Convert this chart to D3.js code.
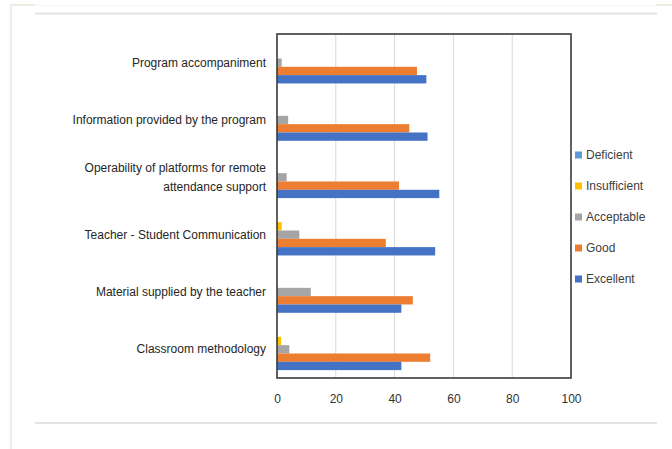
<!DOCTYPE html>
<html>
<head>
<meta charset="utf-8">
<script src="https://cdn.jsdelivr.net/npm/d3@7"></script>
<style>
  html, body { margin: 0; padding: 0; background: #ffffff; }
  svg { display: block; }
  text { font-family: "Liberation Sans", Arial, sans-serif; }
</style>
</head>
<body>
<svg id="chart" width="672" height="449"></svg>
<script>
// Survey ratings per aspect (percent of respondents)
const categories = [
  "Program accompaniment",
  "Information provided by the program",
  "Operability of platforms for remote attendance support",
  "Teacher - Student Communication",
  "Material supplied by the teacher",
  "Classroom methodology"
];
const seriesNames = ["Deficient", "Insufficient", "Acceptable", "Good", "Excellent"];
const deficient    = [0, 0, 0, 0, 0, 0];
const insufficient = [0, 0, 0, 1.6, 0, 1.4];
const acceptable   = [1.6, 3.8, 3.3, 7.6, 11.5, 4.2];
const good         = [47.6, 45.0, 41.5, 37.0, 46.2, 52.1];
const excellent    = [50.8, 51.2, 55.2, 53.8, 42.3, 42.3];
const xTicks = [0, 20, 40, 60, 80, 100];

const seriesValues = [deficient, insufficient, acceptable, good, excellent];
const colors = ["#5B9BD5", "#FFC000", "#A5A5A5", "#ED7D31", "#4472C4"];

const svg = d3.select("#chart");

// Page frame decorations
svg.append("rect").attr("x", 10).attr("y", 4).attr("width", 2).attr("height", 445).attr("fill", "#efede2");
svg.append("rect").attr("x", 10).attr("y", 4).attr("width", 25).attr("height", 2).attr("fill", "#efede2");
svg.append("rect").attr("x", 35).attr("y", 5).attr("width", 622).attr("height", 1).attr("fill", "#f6f5ee");
svg.append("rect").attr("x", 656).attr("y", 4).attr("width", 16).attr("height", 2).attr("fill", "#efede2");
svg.append("rect").attr("x", 35).attr("y", 12.5).attr("width", 622).attr("height", 2).attr("fill", "#e3e3e3");
svg.append("rect").attr("x", 35).attr("y", 422).attr("width", 622).attr("height", 2).attr("fill", "#e3e3e3");

const plot = { left: 277, right: 571, top: 34, bottom: 378 };

const x = d3.scaleLinear().domain([0, 100]).range([plot.left, plot.right]);
const y0 = d3.scaleBand().domain(categories).range([plot.top, plot.bottom]).paddingInner(0.275).paddingOuter(0.1375);
const y1 = d3.scaleBand().domain(seriesNames).range([0, y0.bandwidth()]);

// Vertical gridlines
svg.append("g")
  .selectAll("line")
  .data(xTicks.slice(1, -1))
  .join("line")
  .attr("x1", d => x(d)).attr("x2", d => x(d))
  .attr("y1", plot.top).attr("y2", plot.bottom)
  .attr("stroke", "#d9d9d9").attr("stroke-width", 1);

// Bars
const groups = svg.append("g")
  .selectAll("g")
  .data(categories)
  .join("g")
  .attr("transform", c => `translate(0,${y0(c)})`);

groups.selectAll("rect")
  .data((c, i) => seriesNames.map((s, j) => ({ s, v: seriesValues[j][i], color: colors[j] })))
  .join("rect")
  .attr("x", x(0))
  .attr("y", d => y1(d.s))
  .attr("width", d => x(d.v) - x(0))
  .attr("height", y1.bandwidth())
  .attr("fill", d => d.color);

// Plot frame
svg.append("rect")
  .attr("x", plot.left).attr("y", plot.top)
  .attr("width", plot.right - plot.left).attr("height", plot.bottom - plot.top)
  .attr("fill", "none").attr("stroke", "#3a3a3a").attr("stroke-width", 1.6);

// X axis labels
const xAxis = d3.axisBottom(x).tickValues(xTicks).tickSize(0).tickPadding(16);
const xg = svg.append("g").attr("transform", `translate(0,${plot.bottom})`).call(xAxis);
xg.select(".domain").remove();
xg.selectAll("text").attr("font-size", 12).attr("fill", "#333").style("font-family", "'Liberation Sans', Arial, sans-serif");

// Category labels (wrapped where long)
const wrapLines = {
  "Operability of platforms for remote attendance support": ["Operability of platforms for remote", "attendance support"]
};
const yAxis = d3.axisLeft(y0).tickSize(0).tickPadding(11);
const yg = svg.append("g").attr("transform", `translate(${plot.left},0)`).call(yAxis);
yg.select(".domain").remove();
yg.selectAll("text")
  .attr("font-size", 12)
  .attr("fill", "#262626")
  .style("font-family", "'Liberation Sans', Arial, sans-serif")
  .each(function (d) {
    const lines = wrapLines[d];
    if (!lines) return;
    const t = d3.select(this).text(null);
    lines.forEach((ln, k) => {
      t.append("tspan").attr("x", -11).attr("dy", k === 0 ? "-0.45em" : "1.55em").text(ln);
    });
  });

// Legend
const legendItems = seriesNames.map((s, j) => ({ s, color: colors[j] }));
const legendY = d3.scalePoint().domain(seriesNames).range([155, 279]);
const lg = svg.append("g");
lg.selectAll("rect")
  .data(legendItems)
  .join("rect")
  .attr("x", 575).attr("y", d => legendY(d.s) - 3.5)
  .attr("width", 7).attr("height", 7)
  .attr("fill", d => d.color);
lg.selectAll("text")
  .data(legendItems)
  .join("text")
  .attr("x", 586).attr("y", d => legendY(d.s))
  .attr("dy", "0.35em")
  .attr("font-size", 12)
  .attr("fill", "#404040")
  .text(d => d.s);
</script>
</body>
</html>
